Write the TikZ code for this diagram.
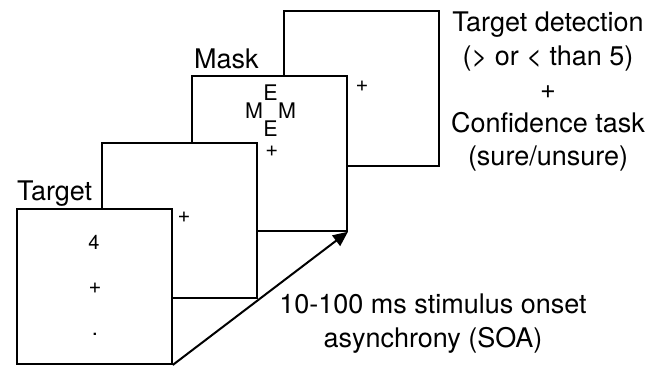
\documentclass[tikz,border=0pt]{standalone}
\usepackage{fontspec}
\setmainfont{TeX Gyre Heros}
\usetikzlibrary{arrows.meta, positioning}

\begin{document}
\begin{tikzpicture}[x=1pt, y=-1pt,
      screen/.style={draw, fill=white, line width=2pt, minimum width=155pt,
        minimum height=155pt, inner sep=0pt, anchor=south east},
      lbl/.style={font=\fontsize{27}{33.4}\selectfont, inner sep=0pt, align=center},
      fix/.style={font=\fontsize{22}{22}\selectfont, inner sep=0pt},
      mk/.style={font=\fontsize{21.5}{21.5}\selectfont, inner sep=0pt}]
    \useasboundingbox (0,0) rectangle (660,366);
    % screens, back to front
    \foreach \n/\x/\y in {resp/440/166.7, mask/348/231.7, blank/258/299, target/172.7/365}
      \node[screen] (\n) at (\x,\y) {};
    % fixation crosses
    \foreach \n/\x/\y in {fixresp/362/86.5, fixmask/271.7/151.7, fixblank/184/217, fixtarget/95/288}
      \node[fix] (\n) at (\x,\y) {+};
    % target screen content
    \node[fix, font=\fontsize{20}{20}\selectfont] (digit) at (94,242) {4};
    \node[fix, anchor=base] (dot) at (95,335) {.};
    % mask letters
    \node[mk] (etop) at (270.5,92.5) {E};
    \node[mk] (mleft) at (254,111) {M};
    \node[mk] (mright) at (287,111) {M};
    \node[mk] (ebot) at (270.5,129) {E};
    % labels
    \node[lbl, anchor=base west] (targetlbl) at (17,200.5) {Target};
    \node[lbl, anchor=base west] (masklbl) at (194,68.3) {Mask};
    \node[lbl, anchor=north] (task) at (548,12)
      {Target detection\\(> or < than 5)\\+\\Confidence task\\(sure/unsure)};
    \node[lbl, anchor=north] (soa) at (433,294)
      {10-100 ms stimulus onset\\asynchrony (SOA)};
    % SOA arrow
    \draw[line width=2pt, -{Triangle[length=15pt, width=13pt]}]
      (target.south east) -- (mask.south east);
\end{tikzpicture}
\end{document}
